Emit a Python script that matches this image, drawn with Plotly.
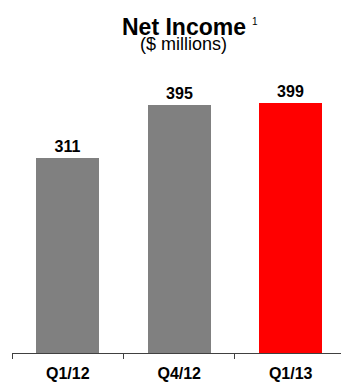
import plotly.graph_objects as go

# Quarterly net income, $ millions
quarters = ["Q1/12", "Q4/12", "Q1/13"]
net_income = [311, 395, 399]
bar_colors = ["#808080", "#808080", "#FF0000"]

FONT = "Liberation Sans, Arial, sans-serif"
W, H = 341, 383
TOP, BOTTOM = 71, 353  # plot area pixel rows


def py(pixel_y):
    """Convert a pixel row to paper y."""
    return (BOTTOM - pixel_y) / (BOTTOM - TOP)


def px(pixel_x):
    """Convert a pixel column to paper x."""
    return (pixel_x - 12) / (W - 12)


fig = go.Figure(
    go.Bar(
        x=quarters,
        y=net_income,
        marker=dict(color=bar_colors, line=dict(width=0)),
        width=0.565,
        text=[str(v) for v in net_income],
        textposition="outside",
        textfont=dict(family=FONT, size=16, color="#000000", weight="bold"),
        cliponaxis=False,
        hoverinfo="skip",
    )
)

fig.update_layout(
    width=W,
    height=H,
    margin=dict(l=12, r=0, t=TOP, b=H - BOTTOM, pad=0),
    paper_bgcolor="white",
    plot_bgcolor="white",
    showlegend=False,
    bargap=0,
    xaxis=dict(
        type="category",
        range=[-0.5, 2.451],
        showline=True,
        linecolor="#404040",
        linewidth=1,
        ticks="outside",
        tickson="boundaries",
        ticklen=5,
        tickcolor="#404040",
        tickwidth=1,
        showgrid=False,
        tickfont=dict(family=FONT, size=16, color="#000000", weight="bold"),
        ticklabelstandoff=6,
    ),
    yaxis=dict(
        range=[0, 450],
        visible=False,
        showgrid=False,
        zeroline=False,
    ),
    annotations=[
        dict(
            text="<b>Net Income</b>",
            x=px(184), y=py(27.5), xref="paper", yref="paper",
            xanchor="center", yanchor="middle", showarrow=False,
            font=dict(family=FONT, size=23, color="#000000"),
        ),
        dict(
            text="1",
            x=px(254.5), y=py(21), xref="paper", yref="paper",
            xanchor="center", yanchor="middle", showarrow=False,
            font=dict(family=FONT, size=10, color="#000000"),
        ),
        dict(
            text="($ millions)",
            x=px(183), y=py(44), xref="paper", yref="paper",
            xanchor="center", yanchor="middle", showarrow=False,
            font=dict(family=FONT, size=18, color="#000000"),
        ),
    ],
)

fig.write_html("out.html")
